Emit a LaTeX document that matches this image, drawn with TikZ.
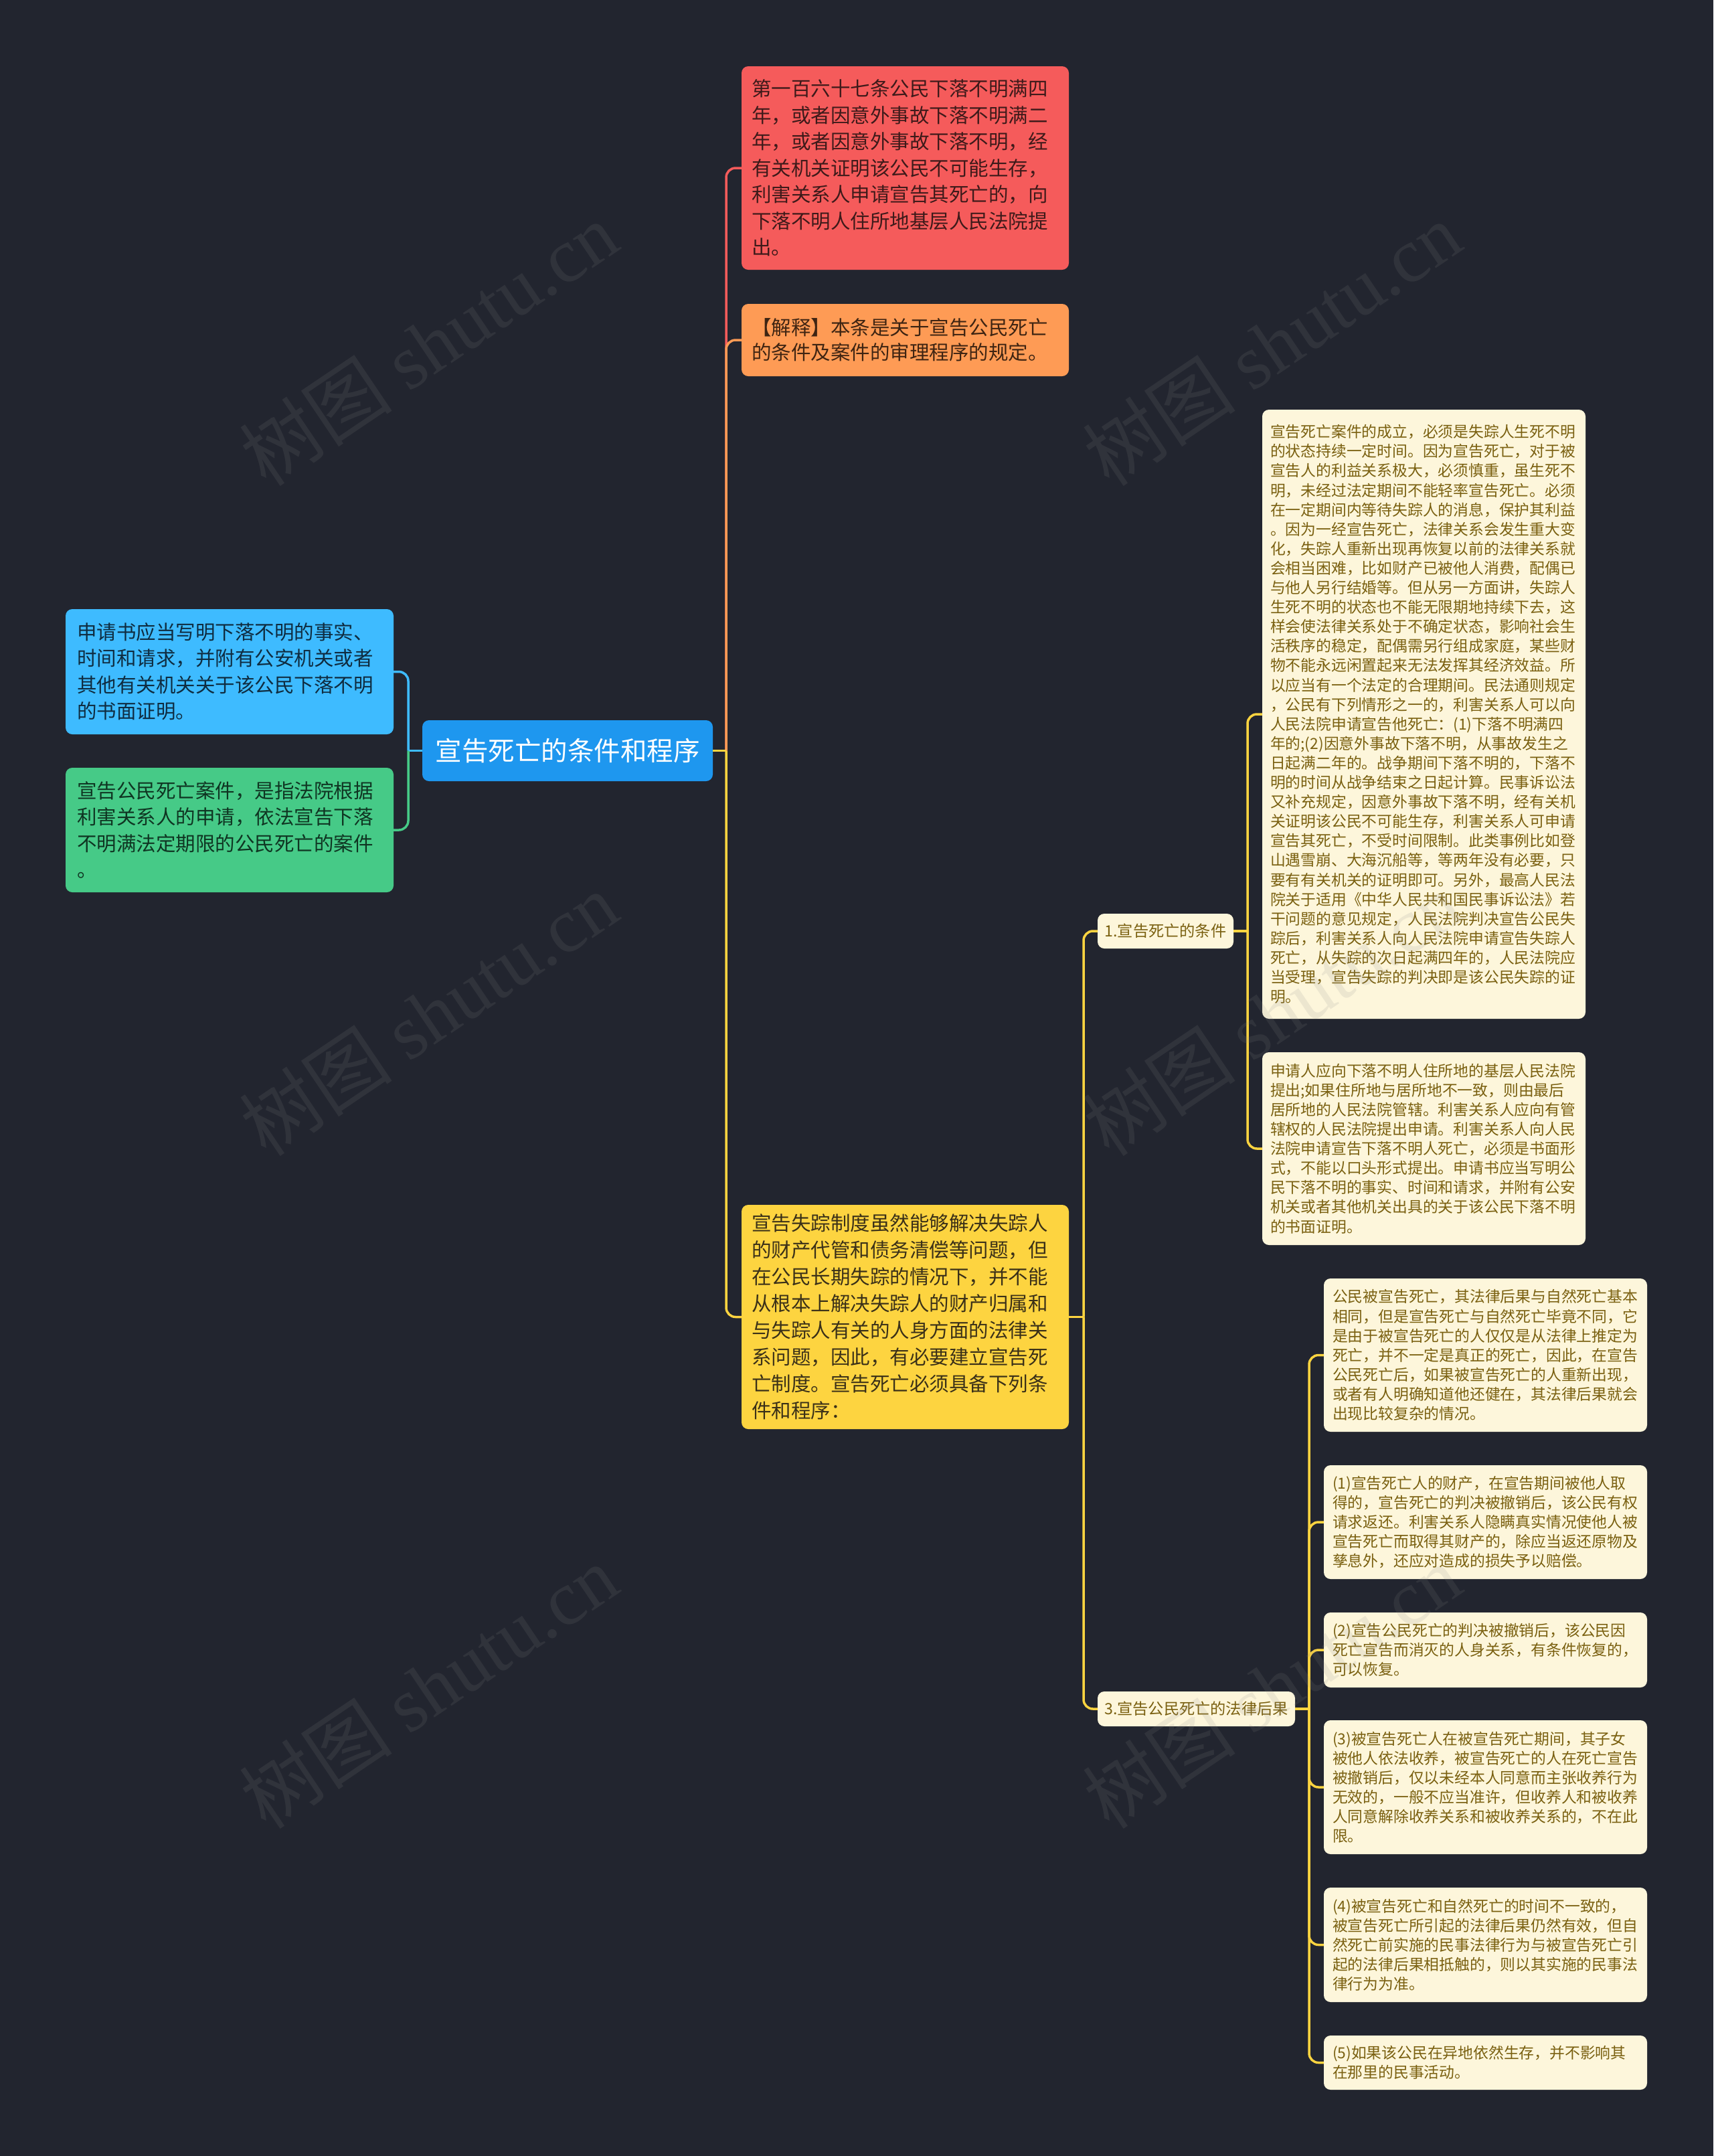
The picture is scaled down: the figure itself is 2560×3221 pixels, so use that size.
\documentclass[tikz,border=0pt]{standalone}
\usepackage{fontspec}
\setmainfont{Noto Sans CJK SC}
\newfontfamily\wmfont{Liberation Serif}
\definecolor{bg}{HTML}{22252F}
\definecolor{cred}{HTML}{F55B5B}
\definecolor{corange}{HTML}{FE9B55}
\definecolor{cyellow}{HTML}{FDD440}
\definecolor{cblue}{HTML}{3EBBFF}
\definecolor{cgreen}{HTML}{46CA87}
\definecolor{croot}{HTML}{1E97EF}
\definecolor{cream}{HTML}{FDF6DB}
\definecolor{creamtext}{HTML}{7A6010}
\definecolor{tred}{HTML}{3E1A1A}
\definecolor{torange}{HTML}{3E2412}
\definecolor{tyellow}{HTML}{3A3018}
\definecolor{tblue}{HTML}{0F2C40}
\definecolor{tgreen}{HTML}{0F3522}
\definecolor{wmgray}{HTML}{8A8A8A}
\begin{document}
\begin{tikzpicture}[x=1pt,y=-1pt,
  conn/.style={line width=3.5pt, rounded corners=14pt},
  colbox/.style={rounded corners=10pt, inner xsep=15pt, inner ysep=0pt, outer sep=0pt, anchor=north west, align=left, text width=459pt, font=\fontsize{29.5}{39.5}\selectfont},
  leafbox/.style={colbox, inner xsep=17pt, text width=456pt},
  creambox/.style={fill=cream, text=creamtext, rounded corners=10pt, inner xsep=12pt, inner ysep=0pt, outer sep=0pt, anchor=north west, align=left, text width=459pt, font=\fontsize{22.8}{29.1}\selectfont},
  consbox/.style={creambox, inner xsep=13pt, text width=457pt},
  tagbox/.style={fill=cream, text=creamtext, rounded corners=10pt, inner sep=0pt, outer sep=0pt, minimum height=52pt, font=\fontsize{23.2}{28}\selectfont},
  wm/.style={text=wmgray, text opacity=0.14, font=\fontsize{115}{115}\selectfont, rotate=34}
]
\useasboundingbox (0,0) rectangle (2560,3221);
\fill[bg] (0,0) rectangle (2560,3221);

% root
\node[fill=croot, text=white, rounded corners=10pt, minimum width=434pt, minimum height=91pt, inner sep=0pt, outer sep=0pt, font=\fontsize{39.5}{46}\selectfont] (root) at (848,1121.5) {宣告死亡的条件和程序};

% right colored boxes
\node[colbox, fill=cred, text=tred, minimum height=304pt] (red) at (1108,99) {第一百六十七条公民下落不明满四\\年，或者因意外事故下落不明满二\\年，或者因意外事故下落不明，经\\有关机关证明该公民不可能生存，\\利害关系人申请宣告其死亡的，向\\下落不明人住所地基层人民法院提\\出。};
\node[colbox, fill=corange, text=torange, minimum height=108pt, font=\fontsize{29.5}{37}\selectfont] (orange) at (1108,454) {【解释】本条是关于宣告公民死亡\\的条件及案件的审理程序的规定。};
\node[colbox, fill=cyellow, text=tyellow, minimum height=335pt, font=\fontsize{29.5}{40}\selectfont] (yel) at (1108,1800) {宣告失踪制度虽然能够解决失踪人\\的财产代管和债务清偿等问题，但\\在公民长期失踪的情况下，并不能\\从根本上解决失踪人的财产归属和\\与失踪人有关的人身方面的法律关\\系问题，因此，有必要建立宣告死\\亡制度。宣告死亡必须具备下列条\\件和程序：};

% left boxes
\node[leafbox, fill=cblue, text=tblue, minimum height=187pt] (bleaf) at (98,910) {申请书应当写明下落不明的事实、\\时间和请求，并附有公安机关或者\\其他有关机关关于该公民下落不明\\的书面证明。};
\node[leafbox, fill=cgreen, text=tgreen, minimum height=186pt] (gleaf) at (98,1147) {宣告公民死亡案件，是指法院根据\\利害关系人的申请，依法宣告下落\\不明满法定期限的公民死亡的案件\\。};

% second level
\node[tagbox, minimum width=203pt] (cond) at (1741.5,1391) {1.宣告死亡的条件};
\node[tagbox, minimum width=295pt] (legal) at (1787.5,2553) {3.宣告公民死亡的法律后果};

\node[creambox, minimum height=910pt] (k1) at (1886,612) {宣告死亡案件的成立，必须是失踪人生死不明\\的状态持续一定时间。因为宣告死亡，对于被\\宣告人的利益关系极大，必须慎重，虽生死不\\明，未经过法定期间不能轻率宣告死亡。必须\\在一定期间内等待失踪人的消息，保护其利益\\。因为一经宣告死亡，法律关系会发生重大变\\化，失踪人重新出现再恢复以前的法律关系就\\会相当困难，比如财产已被他人消费，配偶已\\与他人另行结婚等。但从另一方面讲，失踪人\\生死不明的状态也不能无限期地持续下去，这\\样会使法律关系处于不确定状态，影响社会生\\活秩序的稳定，配偶需另行组成家庭，某些财\\物不能永远闲置起来无法发挥其经济效益。所\\以应当有一个法定的合理期间。民法通则规定\\，公民有下列情形之一的，利害关系人可以向\\人民法院申请宣告他死亡：(1)下落不明满四\\年的;(2)因意外事故下落不明，从事故发生之\\日起满二年的。战争期间下落不明的，下落不\\明的时间从战争结束之日起计算。民事诉讼法\\又补充规定，因意外事故下落不明，经有关机\\关证明该公民不可能生存，利害关系人可申请\\宣告其死亡，不受时间限制。此类事例比如登\\山遇雪崩、大海沉船等，等两年没有必要，只\\要有有关机关的证明即可。另外，最高人民法\\院关于适用《中华人民共和国民事诉讼法》若\\干问题的意见规定，人民法院判决宣告公民失\\踪后，利害关系人向人民法院申请宣告失踪人\\死亡，从失踪的次日起满四年的，人民法院应\\当受理，宣告失踪的判决即是该公民失踪的证\\明。};
\node[creambox, minimum height=288pt] (k2) at (1886,1572) {申请人应向下落不明人住所地的基层人民法院\\提出;如果住所地与居所地不一致，则由最后\\居所地的人民法院管辖。利害关系人应向有管\\辖权的人民法院提出申请。利害关系人向人民\\法院申请宣告下落不明人死亡，必须是书面形\\式，不能以口头形式提出。申请书应当写明公\\民下落不明的事实、时间和请求，并附有公安\\机关或者其他机关出具的关于该公民下落不明\\的书面证明。};

\node[consbox, minimum height=229pt] (c0) at (1978,1910) {公民被宣告死亡，其法律后果与自然死亡基本\\相同，但是宣告死亡与自然死亡毕竟不同，它\\是由于被宣告死亡的人仅仅是从法律上推定为\\死亡，并不一定是真正的死亡，因此，在宣告\\公民死亡后，如果被宣告死亡的人重新出现，\\或者有人明确知道他还健在，其法律后果就会\\出现比较复杂的情况。};
\node[consbox, minimum height=170pt] (c1) at (1978,2189) {(1)宣告死亡人的财产，在宣告期间被他人取\\得的，宣告死亡的判决被撤销后，该公民有权\\请求返还。利害关系人隐瞒真实情况使他人被\\宣告死亡而取得其财产的，除应当返还原物及\\孳息外，还应对造成的损失予以赔偿。};
\node[consbox, minimum height=112pt] (c2) at (1978,2409) {(2)宣告公民死亡的判决被撤销后，该公民因\\死亡宣告而消灭的人身关系，有条件恢复的，\\可以恢复。};
\node[consbox, minimum height=200pt] (c3) at (1978,2570) {(3)被宣告死亡人在被宣告死亡期间，其子女\\被他人依法收养，被宣告死亡的人在死亡宣告\\被撤销后，仅以未经本人同意而主张收养行为\\无效的，一般不应当准许，但收养人和被收养\\人同意解除收养关系和被收养关系的，不在此\\限。};
\node[consbox, minimum height=171pt] (c4) at (1978,2820) {(4)被宣告死亡和自然死亡的时间不一致的，\\被宣告死亡所引起的法律后果仍然有效，但自\\然死亡前实施的民事法律行为与被宣告死亡引\\起的法律后果相抵触的，则以其实施的民事法\\律行为为准。};
\node[consbox, minimum height=81pt] (c5) at (1978,3041) {(5)如果该公民在异地依然生存，并不影响其\\在那里的民事活动。};

% trunk coordinates
\coordinate (T1) at (1085,1121.5);
\coordinate (TL) at (610,1121.5);
\coordinate (T2) at (1619,1967.5);
\coordinate (T3) at (1864,1391);
\coordinate (T4) at (1956,2553);

% connectors
\draw[conn, cred] (root.east) -- (T1);
\draw[conn, cred] (T1) |- (red.west);
\draw[conn, corange] (T1) |- (orange.west);
\draw[conn, cyellow] (root.east) -- (T1);
\draw[conn, cyellow] (T1) |- (yel.west);

\draw[conn, cblue] (root.west) -- (TL);
\draw[conn, cblue] (TL) |- (bleaf.east);
\draw[conn, cgreen] (TL) |- (gleaf.east);

\draw[conn, cyellow] (yel.east) -- (T2);
\draw[conn, cyellow] (T2) |- (cond.west);
\draw[conn, cyellow] (T2) |- (legal.west);

\draw[conn, cyellow] (cond.east) -- (T3);
\draw[conn, cyellow] (T3) |- (k1.west);
\draw[conn, cyellow] (T3) |- (k2.west);

\draw[conn, cyellow] (legal.east) -- (T4);
\foreach \c in {c0,c1,c2,c3,c4,c5} {
  \draw[conn, cyellow] (T4) |- (\c.west);
}

% watermarks
\node[wm] (wm1) at (640,514) {树图 {\wmfont shutu.cn}};
\node[wm] (wm2) at (1900,514) {树图 {\wmfont shutu.cn}};
\node[wm] (wm3) at (640,1515) {树图 {\wmfont shutu.cn}};
\node[wm] (wm4) at (1900,1515) {树图 {\wmfont shutu.cn}};
\node[wm] (wm5) at (640,2520) {树图 {\wmfont shutu.cn}};
\node[wm] (wm6) at (1900,2520) {树图 {\wmfont shutu.cn}};
\end{tikzpicture}
\end{document}
